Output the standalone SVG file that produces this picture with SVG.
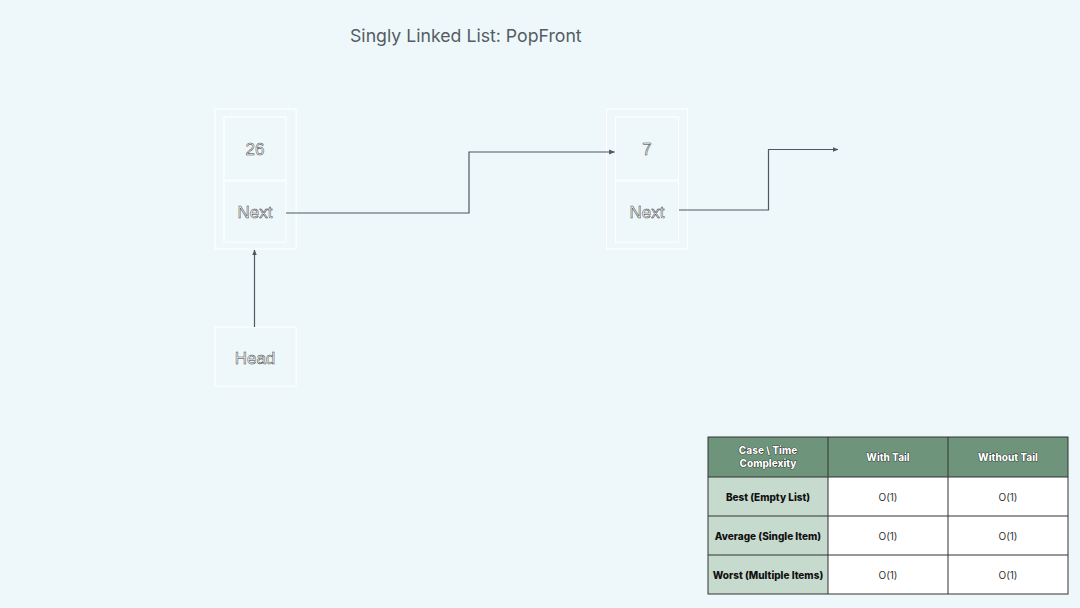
<svg xmlns="http://www.w3.org/2000/svg" width="1080" height="608" viewBox="0 0 1080 608">
<defs>
<style>
.box{fill:none;stroke:#ffffff;stroke-width:1}
.ntxt{font-family:"Liberation Sans",Arial,sans-serif;font-size:17px;fill:#ffffff;stroke:#3a3a3a;stroke-width:0.5;text-anchor:middle}
.conn{fill:none;stroke:#4d5963;stroke-width:1.2}
.th{font-family:Inter,"Liberation Sans",sans-serif;font-size:10px;font-weight:800;fill:#ffffff;stroke:#000;stroke-width:0.7;paint-order:stroke;text-anchor:middle}
.tc{font-family:Inter,"Liberation Sans",sans-serif;font-size:10px;font-weight:800;fill:#111;text-anchor:middle}
.td{font-family:Inter,"Liberation Sans",sans-serif;font-size:10px;fill:#333;text-anchor:middle}
.grid{stroke:#333;stroke-width:1;fill:none}
</style>
<marker id="ah" viewBox="0 0 10 10" refX="9" refY="5" markerWidth="6" markerHeight="6" markerUnits="userSpaceOnUse" orient="auto">
<path d="M0,1 L10,5 L0,9 Z" fill="#4d5963"/>
</marker>
</defs>
<rect width="1080" height="608" fill="#eef8fa"/>
<text x="350" y="42" font-family="Inter,'Liberation Sans',sans-serif" font-size="17.7" fill="#555c63">Singly Linked List: PopFront</text>
<g id="node26">
<rect class="box" x="215" y="109" width="81" height="140"/>
<rect class="box" x="224" y="117" width="62" height="63"/>
<rect class="box" x="224" y="181" width="62" height="61"/>
<text class="ntxt" x="255" y="155">26</text>
<text class="ntxt" x="255" y="218">Next</text>
</g>
<g id="node7">
<rect class="box" x="606.5" y="109" width="81" height="140"/>
<rect class="box" x="615.5" y="117" width="63" height="63"/>
<rect class="box" x="615.5" y="181" width="63" height="61"/>
<text class="ntxt" x="647" y="155">7</text>
<text class="ntxt" x="647" y="218">Next</text>
</g>
<g id="head">
<rect class="box" x="215" y="327" width="81" height="59"/>
<text class="ntxt" x="255" y="364">Head</text>
</g>
<g id="connectors">
<path class="conn" d="M286,213 H469 V152 H614.5" marker-end="url(#ah)"/>
<path class="conn" d="M679,210 H768.5 V149.5 H838" marker-end="url(#ah)"/>
<path class="conn" d="M254.5,327 V250" marker-end="url(#ah)"/>
</g>
<g id="table">
<rect x="708" y="437" width="360" height="40" fill="#6e957b"/>
<rect x="708" y="477" width="120" height="117" fill="#c6dacd"/>
<rect x="828" y="477" width="240" height="117" fill="#ffffff"/>
<rect class="grid" x="708" y="437" width="360" height="157"/>
<path class="grid" d="M828,437 V594 M948,437 V594 M708,477 H1068 M708,516 H1068 M708,555 H1068"/>
<text class="th" x="768" y="454">Case \ Time</text>
<text class="th" x="768" y="467">Complexity</text>
<text class="th" x="888" y="461">With Tail</text>
<text class="th" x="1008" y="461">Without Tail</text>
<text class="tc" x="768" y="501">Best (Empty List)</text>
<text class="tc" x="768" y="540">Average (Single Item)</text>
<text class="tc" x="768" y="579">Worst (Multiple Items)</text>
<text class="td" x="888" y="501">O(1)</text>
<text class="td" x="1008" y="501">O(1)</text>
<text class="td" x="888" y="540">O(1)</text>
<text class="td" x="1008" y="540">O(1)</text>
<text class="td" x="888" y="579">O(1)</text>
<text class="td" x="1008" y="579">O(1)</text>
</g>
</svg>
